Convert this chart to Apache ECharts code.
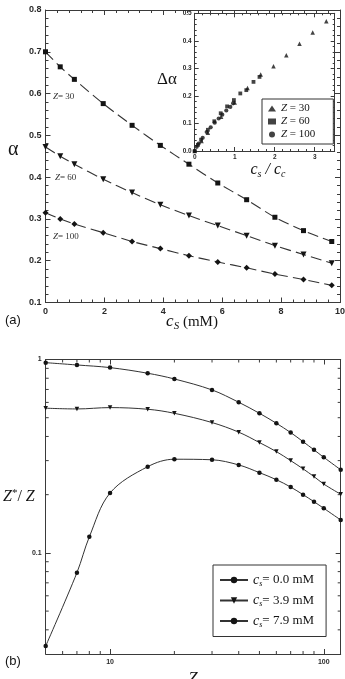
<!DOCTYPE html>
<html><head><meta charset="utf-8">
<script src="https://cdn.jsdelivr.net/npm/echarts@6/dist/echarts.min.js"></script>
<style>html,body{margin:0;padding:0;background:#fff}#c{width:345px;height:679px}</style>
</head><body><div id="c"></div>
<script>
// ---------- Panel (a): alpha vs c_s ----------
const csValues = [0, 0.5, 0.98, 1.96, 2.94, 3.9, 4.87, 5.85, 6.83, 7.79, 8.76, 9.72];
const alphaZ30 = [0.700, 0.664, 0.634, 0.576, 0.524, 0.476, 0.431, 0.386, 0.346, 0.304, 0.272, 0.246];
const alphaZ60 = [0.472, 0.450, 0.431, 0.395, 0.363, 0.334, 0.308, 0.284, 0.260, 0.236, 0.215, 0.194];
const alphaZ100 = [0.315, 0.300, 0.288, 0.267, 0.246, 0.229, 0.212, 0.197, 0.183, 0.168, 0.155, 0.141];

// ---------- Inset: delta alpha vs c_s/c_c ----------
const ratioZ30 = [0, 0.17, 0.33, 0.66, 1.0, 1.32, 1.65, 1.97, 2.29, 2.62, 2.95, 3.29];
const dAlphaZ30 = [0, 0.036, 0.066, 0.124, 0.176, 0.229, 0.278, 0.308, 0.348, 0.389, 0.430, 0.471];
const ratioZ60 = [0, 0.08, 0.16, 0.33, 0.49, 0.65, 0.81, 0.98, 1.14, 1.29, 1.47, 1.62];
const dAlphaZ60 = [0, 0.022, 0.041, 0.077, 0.108, 0.137, 0.162, 0.185, 0.209, 0.221, 0.251, 0.269];
const ratioZ100 = [0, 0.05, 0.10, 0.20, 0.30, 0.40, 0.50, 0.60, 0.69, 0.79, 0.89, 0.96];
const dAlphaZ100 = [0, 0.015, 0.027, 0.048, 0.069, 0.086, 0.103, 0.118, 0.132, 0.147, 0.160, 0.173];

// ---------- Panel (b): Z*/Z vs Z ----------
const zValues = [5, 7, 10, 15, 20, 30, 40, 50, 60, 70, 80, 90, 100, 120];
const zFracCs00 = [0.963, 0.937, 0.908, 0.849, 0.793, 0.696, 0.601, 0.527, 0.468, 0.419, 0.376, 0.341, 0.312, 0.269];
const zFracCs39 = [0.560, 0.555, 0.564, 0.553, 0.527, 0.472, 0.421, 0.372, 0.334, 0.300, 0.272, 0.248, 0.227, 0.201];
const zValuesCs79 = [5, 7, 8, 10, 15, 20, 30, 40, 50, 60, 70, 80, 90, 100, 120];
const zFracCs79 = [0.033, 0.079, 0.121, 0.204, 0.279, 0.305, 0.303, 0.285, 0.260, 0.239, 0.219, 0.200, 0.184, 0.170, 0.148];

const xMinorTicksB = [6, 7, 8, 9, 20, 30, 40, 50, 60, 70, 80, 90];
const yMinorTicksB = [0.04, 0.05, 0.06, 0.07, 0.08, 0.09, 0.2, 0.3, 0.4, 0.5, 0.6, 0.7, 0.8, 0.9];

const zip = (a, b) => a.map((v, i) => [v, b[i]]);
const FRAME = '#3a3a3a';
const INK = '#141414';
const SANS = 'Liberation Sans';
const SERIF = 'Liberation Serif';

function axisCommon(extra) {
  return Object.assign({
    axisLine: { show: true, onZero: false, lineStyle: { color: FRAME, width: 1 } },
    axisTick: { show: true, inside: true, length: 5, lineStyle: { color: FRAME, width: 1 } },
    splitLine: { show: false },
    z: 1
  }, extra);
}
function labelStyle(size, extra) {
  return Object.assign({ fontSize: size, fontWeight: 'bold', color: '#2a2a2a', fontFamily: SANS }, extra || {});
}
const isPow10 = v => Math.abs(Math.log10(v) - Math.round(Math.log10(v))) < 1e-6;
const fmtPow = v => isPow10(v) ? String(Number(v.toPrecision(6))) : '';

const chart = echarts.init(document.getElementById('c'));

const option = {
  backgroundColor: '#fff',
  animation: false,
  grid: [
    { left: 45.5, top: 10, width: 294.5, height: 292.5, outerBoundsMode: 'none', containLabel: false },
    { left: 194.7, top: 13.3, width: 140, height: 137.7, show: true, backgroundColor: '#fff', borderWidth: 0, z: 5, outerBoundsMode: 'none', containLabel: false },
    { left: 45.7, top: 359.5, width: 295, height: 294.5, outerBoundsMode: 'none', containLabel: false }
  ],
  xAxis: [
    axisCommon({ gridIndex: 0, type: 'value', position: 'bottom', min: 0, max: 10, interval: 2,
      minorTick: { show: true, splitNumber: 5, length: 3, lineStyle: { color: FRAME } },
      axisLabel: labelStyle(9, { margin: 5 }) }),
    axisCommon({ gridIndex: 0, type: 'value', position: 'top', min: 0, max: 10, interval: 2,
      minorTick: { show: true, splitNumber: 5, length: 3, lineStyle: { color: FRAME } },
      axisLabel: { show: false } }),
    axisCommon({ gridIndex: 1, type: 'value', position: 'bottom', min: 0, max: 3.5, interval: 1, z: 6,
      axisTick: { show: true, inside: true, length: 4, lineStyle: { color: FRAME } },
      minorTick: { show: true, splitNumber: 5, length: 2, lineStyle: { color: FRAME } },
      axisLabel: labelStyle(6.5, { margin: 3, showMaxLabel: false }) }),
    axisCommon({ gridIndex: 1, type: 'value', position: 'top', min: 0, max: 3.5, interval: 1, z: 6,
      axisTick: { show: true, inside: true, length: 4, lineStyle: { color: FRAME } },
      minorTick: { show: true, splitNumber: 5, length: 2, lineStyle: { color: FRAME } },
      axisLabel: { show: false } }),
    axisCommon({ gridIndex: 2, type: 'log', logBase: 10, position: 'bottom', min: 5, max: 120,
      axisLabel: labelStyle(7, { margin: 5, formatter: fmtPow, showMinLabel: false, showMaxLabel: false }) }),
    axisCommon({ gridIndex: 2, type: 'log', logBase: 10, position: 'top', min: 5, max: 120,
      axisLabel: { show: false } })
  ],
  yAxis: [
    axisCommon({ gridIndex: 0, type: 'value', position: 'left', min: 0.1, max: 0.8, interval: 0.1,
      minorTick: { show: true, splitNumber: 5, length: 3, lineStyle: { color: FRAME } },
      axisLabel: labelStyle(9, { margin: 4, formatter: v => v.toFixed(1) }) }),
    axisCommon({ gridIndex: 0, type: 'value', position: 'right', min: 0.1, max: 0.8, interval: 0.1,
      minorTick: { show: true, splitNumber: 5, length: 3, lineStyle: { color: FRAME } },
      axisLabel: { show: false } }),
    axisCommon({ gridIndex: 1, type: 'value', position: 'left', min: 0, max: 0.5, interval: 0.1, z: 6,
      axisTick: { show: true, inside: true, length: 4, lineStyle: { color: FRAME } },
      minorTick: { show: true, splitNumber: 5, length: 2, lineStyle: { color: FRAME } },
      axisLabel: labelStyle(6.5, { margin: 3, formatter: v => v.toFixed(1) }) }),
    axisCommon({ gridIndex: 1, type: 'value', position: 'right', min: 0, max: 0.5, interval: 0.1, z: 6,
      axisTick: { show: true, inside: true, length: 4, lineStyle: { color: FRAME } },
      minorTick: { show: true, splitNumber: 5, length: 2, lineStyle: { color: FRAME } },
      axisLabel: { show: false } }),
    axisCommon({ gridIndex: 2, type: 'log', logBase: 10, position: 'left', min: 0.03, max: 1,
      axisLabel: labelStyle(7, { margin: 4, formatter: fmtPow, showMinLabel: false }) }),
    axisCommon({ gridIndex: 2, type: 'log', logBase: 10, position: 'right', min: 0.03, max: 1,
      axisLabel: { show: false } })
  ],
  legend: [
    {
      orient: 'vertical', left: 262, top: 99, z: 8,
      data: ['Z = 30', 'Z = 60', 'Z = 100'],
      itemWidth: 8, itemHeight: 6, itemGap: 2, padding: [4, 18, 4, 6],
      borderColor: '#333', borderWidth: 1, backgroundColor: '#fff',
      formatter: n => '{i|Z}' + n.slice(1),
      textStyle: { fontFamily: SERIF, fontSize: 11, color: INK,
        rich: { i: { fontFamily: SERIF, fontStyle: 'italic', fontSize: 11, color: INK } } },
      selectedMode: false
    },
    {
      orient: 'vertical', left: 213, top: 565, z: 8,
      data: ['cs = 0.0 mM', 'cs = 3.9 mM', 'cs = 7.9 mM'],
      itemWidth: 28, itemHeight: 8, itemGap: 6, padding: [8, 12, 8, 6],
      borderColor: '#333', borderWidth: 1, backgroundColor: '#fff',
      formatter: n => '{i|c}{s|s}= ' + n.slice(5),
      textStyle: { fontFamily: SERIF, fontSize: 13, color: INK,
        rich: {
          i: { fontFamily: SERIF, fontStyle: 'italic', fontSize: 14, color: INK },
          s: { fontFamily: SERIF, fontStyle: 'italic', fontSize: 8, color: INK, padding: [7, 0, 0, 0] }
        } },
      selectedMode: false
    }
  ],
  series: [
    // panel (a)
    { name: 'a Z=30', type: 'line', xAxisIndex: 0, yAxisIndex: 0, data: zip(csValues, alphaZ30),
      smooth: 0.3, symbol: 'rect', symbolSize: 5, itemStyle: { color: INK },
      lineStyle: { color: '#333', width: 1.1, type: [11, 5] }, z: 2 },
    { name: 'a Z=60', type: 'line', xAxisIndex: 0, yAxisIndex: 0, data: zip(csValues, alphaZ60),
      smooth: 0.3, symbol: 'triangle', symbolRotate: 180, symbolSize: 6, itemStyle: { color: INK },
      lineStyle: { color: '#333', width: 1.1, type: [11, 5] }, z: 2 },
    { name: 'a Z=100', type: 'line', xAxisIndex: 0, yAxisIndex: 0, data: zip(csValues, alphaZ100),
      smooth: 0.3, symbol: 'diamond', symbolSize: 6, itemStyle: { color: INK },
      lineStyle: { color: '#333', width: 1.1, type: [11, 5] }, z: 2 },
    // inset
    { name: 'Z = 30', type: 'scatter', xAxisIndex: 2, yAxisIndex: 2, data: zip(ratioZ30, dAlphaZ30),
      symbol: 'triangle', symbolSize: 4.5, itemStyle: { color: INK }, z: 7 },
    { name: 'Z = 60', type: 'scatter', xAxisIndex: 2, yAxisIndex: 2, data: zip(ratioZ60, dAlphaZ60),
      symbol: 'rect', symbolSize: 3.8, itemStyle: { color: INK }, z: 7 },
    { name: 'Z = 100', type: 'scatter', xAxisIndex: 2, yAxisIndex: 2, data: zip(ratioZ100, dAlphaZ100),
      symbol: 'circle', symbolSize: 4.2, itemStyle: { color: INK }, z: 7 },
    // panel (b)
    { name: 'cs = 0.0 mM', type: 'line', xAxisIndex: 4, yAxisIndex: 4, data: zip(zValues, zFracCs00),
      smooth: 0.35, symbol: 'circle', symbolSize: 4.5, itemStyle: { color: INK },
      lineStyle: { color: '#333', width: 1 }, z: 3 },
    { name: 'cs = 3.9 mM', type: 'line', xAxisIndex: 4, yAxisIndex: 4, data: zip(zValues, zFracCs39),
      smooth: 0.35, symbol: 'triangle', symbolRotate: 180, symbolSize: 4.5, itemStyle: { color: INK },
      lineStyle: { color: '#333', width: 1 }, z: 3 },
    { name: 'cs = 7.9 mM', type: 'line', xAxisIndex: 4, yAxisIndex: 4, data: zip(zValuesCs79, zFracCs79),
      smooth: 0.35, symbol: 'circle', symbolSize: 4.5, itemStyle: { color: INK },
      lineStyle: { color: '#333', width: 1 }, z: 3 },
    // minor log ticks, panel (b)
    { name: 'xMinorB', type: 'custom', xAxisIndex: 4, yAxisIndex: 4, clip: false, silent: true, z: 1,
      data: xMinorTicksB.map(v => [v, 1]),
      renderItem: (params, api) => {
        const cs = params.coordSys; const x = api.coord([api.value(0), api.value(1)])[0];
        const st = { stroke: FRAME, lineWidth: 1 };
        return { type: 'group', children: [
          { type: 'line', shape: { x1: x, y1: cs.y + cs.height, x2: x, y2: cs.y + cs.height - 3 }, style: st },
          { type: 'line', shape: { x1: x, y1: cs.y, x2: x, y2: cs.y + 3 }, style: st } ] };
      } },
    { name: 'yMinorB', type: 'custom', xAxisIndex: 4, yAxisIndex: 4, clip: false, silent: true, z: 1,
      data: yMinorTicksB.map(v => [10, v]),
      renderItem: (params, api) => {
        const cs = params.coordSys; const y = api.coord([api.value(0), api.value(1)])[1];
        const st = { stroke: FRAME, lineWidth: 1 };
        return { type: 'group', children: [
          { type: 'line', shape: { x1: cs.x, y1: y, x2: cs.x + 3, y2: y }, style: st },
          { type: 'line', shape: { x1: cs.x + cs.width, y1: y, x2: cs.x + cs.width - 3, y2: y }, style: st } ] };
      } }
  ],
  graphic: [
    { type: 'text', left: 5, top: 314, style: { text: '(a)', font: '13px "Liberation Sans"', fill: INK } },
    { type: 'text', left: 8, top: 140, style: { text: 'α', font: '20px "Liberation Serif"', fill: INK } },
    { type: 'text', x: 192, y: 322, style: { text: '{i|c}{s|S} (mM)', align: 'center', verticalAlign: 'middle',
        font: '15px "Liberation Serif"', fill: INK,
        rich: { i: { fontFamily: SERIF, fontStyle: 'italic', fontSize: 17, fill: INK },
                s: { fontFamily: SERIF, fontStyle: 'italic', fontSize: 11, fill: INK, padding: [8, 0, 0, 0] } } } },
    { type: 'text', x: 53, y: 97, style: { text: '{i|Z}= 30', verticalAlign: 'middle', font: '9px "Liberation Serif"', fill: '#333',
        rich: { i: { fontFamily: SERIF, fontStyle: 'italic', fontSize: 9 } } } },
    { type: 'text', x: 55, y: 178, style: { text: '{i|Z}= 60', verticalAlign: 'middle', font: '9px "Liberation Serif"', fill: '#333',
        rich: { i: { fontFamily: SERIF, fontStyle: 'italic', fontSize: 9 } } } },
    { type: 'text', x: 53, y: 237, style: { text: '{i|Z}= 100', verticalAlign: 'middle', font: '9px "Liberation Serif"', fill: '#333',
        rich: { i: { fontFamily: SERIF, fontStyle: 'italic', fontSize: 9 } } } },
    { type: 'text', x: 157, y: 80, z: 9, style: { text: 'Δα', verticalAlign: 'middle', font: '17px "Liberation Serif"', fill: INK } },
    { type: 'text', x: 268, y: 170, z: 9, style: { text: '{i|c}{s|s}{i| / c}{s|c}', align: 'center', verticalAlign: 'middle',
        font: 'italic 16px "Liberation Serif"', fill: INK,
        rich: { i: { fontFamily: SERIF, fontStyle: 'italic', fontSize: 16, fill: INK },
                s: { fontFamily: SERIF, fontStyle: 'italic', fontSize: 10, fill: INK, padding: [8, 0, 0, 0] } } } },
    { type: 'text', left: 5, top: 655, style: { text: '(b)', font: '13px "Liberation Sans"', fill: INK } },
    { type: 'text', x: 3, y: 497, style: { text: '{i|Z}{p|*}{n|/ }{i|Z}', verticalAlign: 'middle',
        font: '15px "Liberation Serif"', fill: INK,
        rich: { i: { fontFamily: SERIF, fontStyle: 'italic', fontSize: 16, fill: INK },
                p: { fontFamily: SERIF, fontSize: 11, fill: INK, padding: [0, 0, 7, 0] },
                n: { fontFamily: SERIF, fontSize: 16, fill: INK } } } },
    { type: 'text', x: 193, y: 670, style: { text: 'Z', align: 'center', font: 'italic 17px "Liberation Serif"', fill: INK } }
  ]
};
chart.setOption(option);
</script>
</body></html>
